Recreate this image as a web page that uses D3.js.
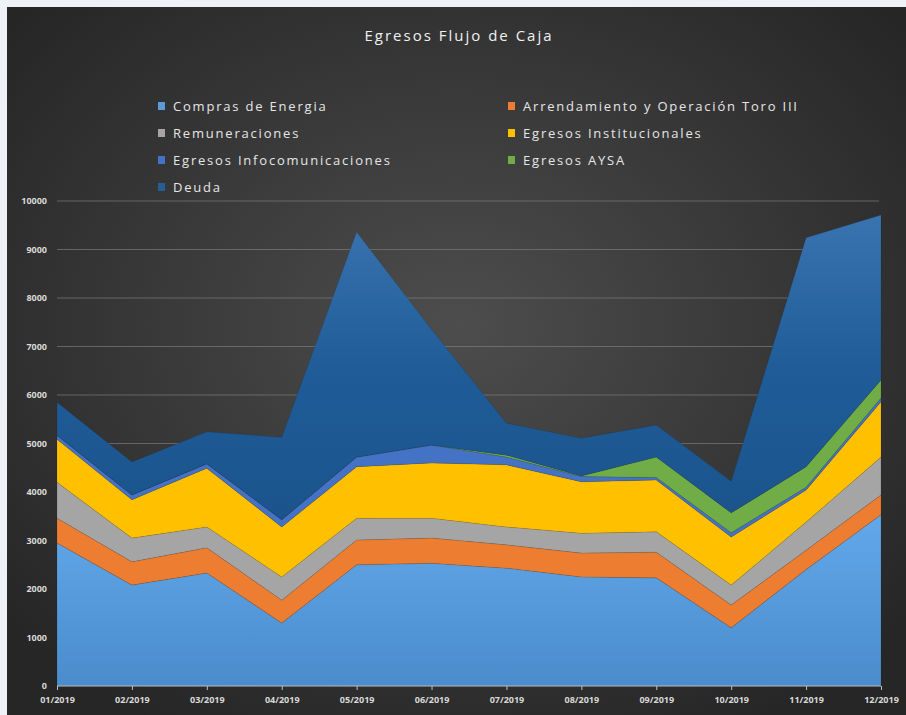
<!DOCTYPE html>
<html>
<head>
<meta charset="utf-8">
<script src="https://cdn.jsdelivr.net/npm/d3@7"></script>
<style>
body { margin: 0; background: #eef2f6; }
.chart { width: 906px; height: 715px; }
.axis text { fill: #d9d9d9; font-family: "Open Sans", sans-serif; font-size: 9px; font-weight: bold; }
.axis path, .axis line { stroke: #bfbfbf; }
.legend text { fill: #e6e6e6; font-family: "Open Sans", sans-serif; font-size: 13px; letter-spacing: 1.8px; }
</style>
</head>
<body>
<div class="chart"></div>
<script>

var months = ['01/2019','02/2019','03/2019','04/2019','05/2019','06/2019','07/2019','08/2019','09/2019','10/2019','11/2019','12/2019'];

var comprasEnergia = [2950, 2080, 2330, 1300, 2500, 2530, 2430, 2250, 2230, 1200, 2400, 3530];
var arrendamiento = [510, 480, 520, 470, 510, 520, 480, 490, 530, 470, 400, 410];
var remuneraciones = [740, 490, 430, 480, 450, 410, 370, 410, 420, 410, 580, 780];
var institucionales = [890, 790, 1210, 1030, 1060, 1140, 1280, 1060, 1070, 990, 660, 1140];
var infocomunicaciones = [80, 100, 90, 150, 200, 370, 160, 110, 50, 90, 60, 80];
var aysa = [0, 0, 0, 0, 0, 0, 40, 10, 420, 410, 420, 370];
var deuda = [680, 680, 660, 1700, 4640, 2380, 660, 780, 660, 650, 4720, 3400];

var yTicks = [0, 1000, 2000, 3000, 4000, 5000, 6000, 7000, 8000, 9000, 10000];

var seriesNames = ['Compras de Energia', 'Arrendamiento y Operación Toro III', 'Remuneraciones', 'Egresos Institucionales', 'Egresos Infocomunicaciones', 'Egresos AYSA', 'Deuda'];
var seriesValues = [comprasEnergia, arrendamiento, remuneraciones, institucionales, infocomunicaciones, aysa, deuda];
var seriesColors = ['#5b9bd5', '#ed7d31', '#a5a5a5', '#ffc000', '#4472c4', '#70ad47', '#255e91'];

// rows for d3.stack
var rows = months.map(function(m, i){
    var r = {month: m};
    seriesNames.forEach(function(s, j){ r[s] = seriesValues[j][i]; });
    return r;
});

var svg = d3
.select('div.chart')
.append('svg')
.attr('width', 906)
.attr('height', 715)
;

var defs = svg.append('defs');

var bg = defs.append('radialGradient')
.attr('id', 'bg')
.attr('cx', '50%')
.attr('cy', '45%')
.attr('r', '65%')
;
bg.append('stop').attr('offset', '0%').attr('stop-color', '#4d4d4d');
bg.append('stop').attr('offset', '100%').attr('stop-color', '#262626');

var gBlue = defs.append('linearGradient').attr('id', 'gBlue').attr('x1', 0).attr('y1', 0).attr('x2', 0).attr('y2', 1);
gBlue.append('stop').attr('offset', '0%').attr('stop-color', '#62a8ea');
gBlue.append('stop').attr('offset', '100%').attr('stop-color', '#4a8ccc');

var gDeuda = defs.append('linearGradient').attr('id', 'gDeuda').attr('x1', 0).attr('y1', 0).attr('x2', 0).attr('y2', 1);
gDeuda.append('stop').attr('offset', '0%').attr('stop-color', '#3a74b0');
gDeuda.append('stop').attr('offset', '50%').attr('stop-color', '#1f5c98');
gDeuda.append('stop').attr('offset', '100%').attr('stop-color', '#1b548c');

var fills = ['url(#gBlue)', seriesColors[1], seriesColors[2], seriesColors[3], seriesColors[4], seriesColors[5], 'url(#gDeuda)'];

svg.append('rect')
.attr('x', 7)
.attr('y', 7)
.attr('width', 899)
.attr('height', 708)
.attr('fill', 'url(#bg)')
;

var x = d3.scalePoint()
.domain(months)
.range([57, 881])
;

var y = d3.scaleLinear()
.domain([0, 10000])
.range([686, 201])
;

// gridlines
svg.append('g')
.selectAll('line')
.data(yTicks.slice(1))
.enter()
.append('line')
.attr('x1', 57)
.attr('x2', 879)
.attr('y1', function(d){return y(d)})
.attr('y2', function(d){return y(d)})
.attr('stroke', '#7a7a7a')
.attr('stroke-opacity', 0.7)
.attr('stroke-width', 1)
;

var stack = d3.stack().keys(seriesNames);
var layers = stack(rows);

var area = d3.area()
    .x(function(d){return x(d.data.month)})
    .y0(function(d){return y(d[0])})
    .y1(function(d){return y(d[1])})
    ;

svg.append('g')
.selectAll('path')
.data(layers)
.enter()
.append('path')
.attr('d', area)
.attr('fill', function(d, i){return fills[i]})
.attr('stroke', 'rgba(0,0,0,0.15)')
.attr('stroke-width', 0.6)
;

var yAxis = d3.axisLeft()
.scale(y)
.tickValues(yTicks)
.tickFormat(d3.format('d'))
.tickSize(0)
.tickPadding(10)
;

svg.append('g')
.attr('class', 'axis')
.attr('transform', 'translate(57,0)')
.call(yAxis)
.call(function(g){ g.select('.domain').remove(); })
;

var xAxis = d3.axisBottom()
.scale(x)
.tickSize(4)
.tickPadding(7)
;

svg.append('g')
.attr('class', 'axis')
.attr('transform', 'translate(0,686)')
.call(xAxis)
.call(function(g){ g.select('.domain').attr('d', 'M57,0H881'); })
;

// title
svg.append('text')
.attr('x', 459)
.attr('y', 41)
.attr('text-anchor', 'middle')
.attr('fill', '#f0f0f0')
.style('font-family', '"Open Sans", sans-serif')
.style('font-size', '15px')
.style('letter-spacing', '2px')
.text('Egresos Flujo de Caja')
;

// legend, two columns
var legend = svg.append('g').attr('class', 'legend');

var item = legend
.selectAll('g')
.data(seriesNames)
.enter()
.append('g')
.attr('transform', function(d, i){
    var col = i % 2;
    var row = Math.floor(i / 2);
    return 'translate(' + (col === 0 ? 158 : 508) + ',' + (106 + row * 27) + ')';
})
;

item.append('rect')
.attr('x', 0)
.attr('y', -4)
.attr('width', 7)
.attr('height', 8)
.attr('fill', function(d, i){return seriesColors[i]})
;

item.append('text')
.attr('x', 15)
.attr('y', 0)
.attr('dy', '0.35em')
.text(function(d){return d})
;

</script>
</body>
</html>
